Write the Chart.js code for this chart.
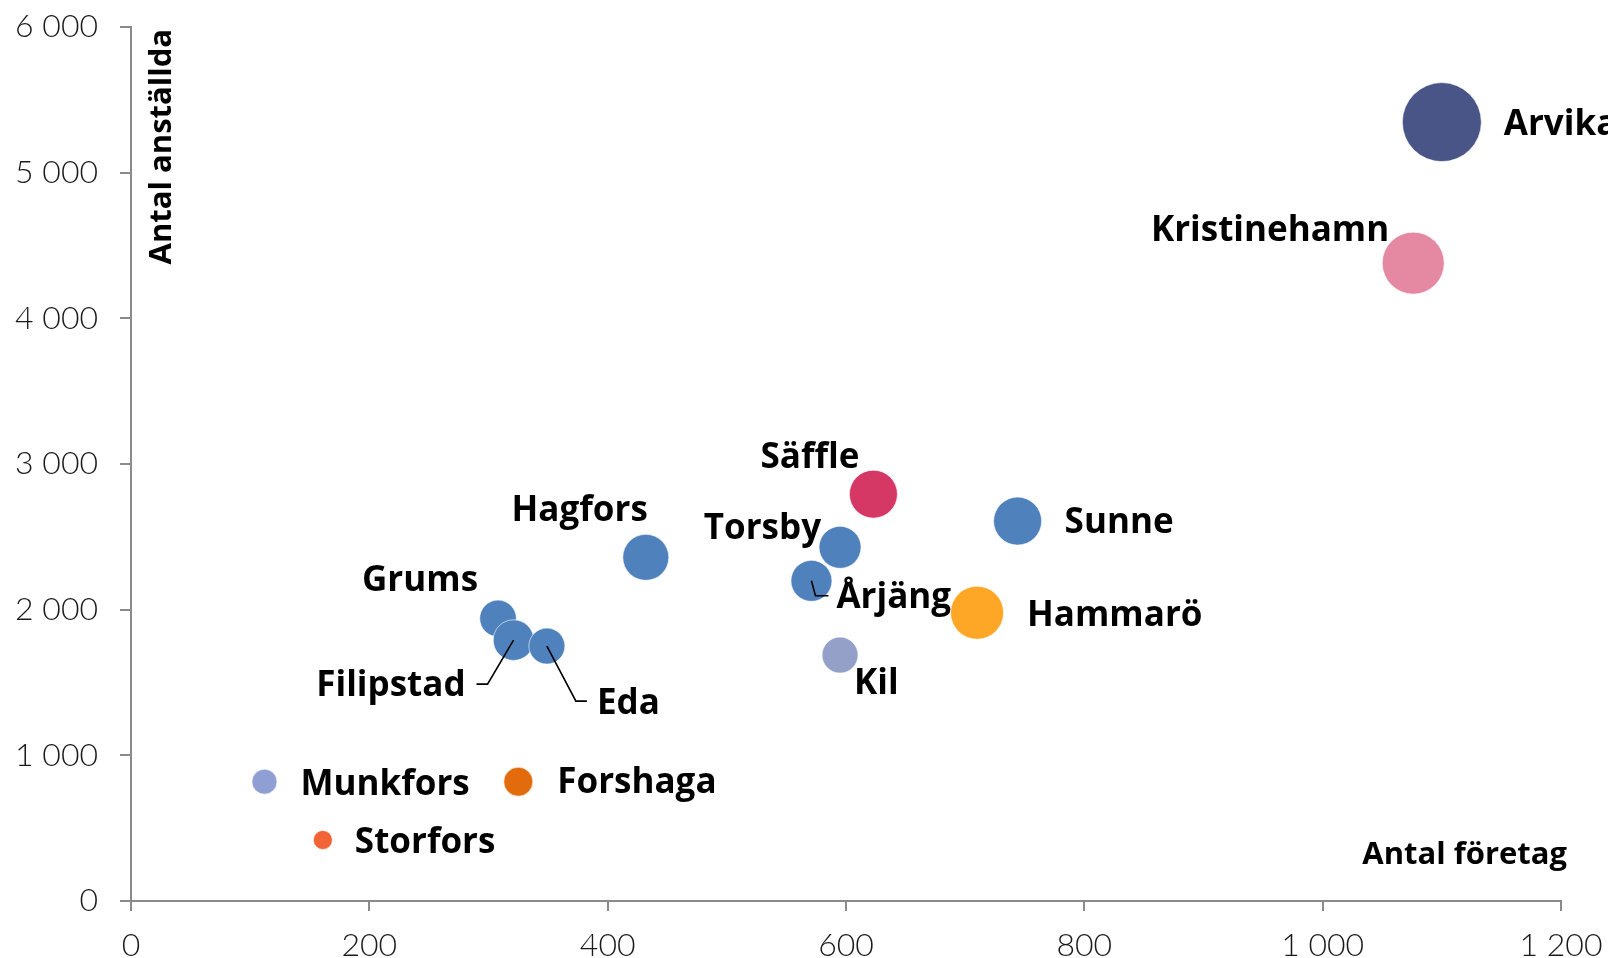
<!DOCTYPE html>
<html lang="sv">
<head>
<meta charset="utf-8">
<title>Antal företag och anställda per kommun</title>
<script src="https://cdn.jsdelivr.net/npm/chart.js@4"></script>
<style>
	html, body { margin: 0; padding: 0; background: #fff; }
	#diagram { display: block; }
</style>
</head>
<body>
<canvas id="diagram" width="1608" height="958"></canvas>
<script>
// Värden
const kommuner = ['Arvika', 'Kristinehamn', 'Säffle', 'Sunne', 'Hagfors', 'Torsby', 'Årjäng', 'Hammarö', 'Kil', 'Grums', 'Filipstad', 'Eda', 'Munkfors', 'Forshaga', 'Storfors'];
const antalForetag = [1100, 1076, 623, 744, 432, 595, 571, 710, 595, 308, 321, 349, 112, 325, 161];
const antalAnstallda = [5347, 4379, 2793, 2608, 2359, 2428, 2198, 1979, 1688, 1940, 1791, 1750, 819, 819, 419];
const bubbelStorlek = [39.5, 31, 24, 24, 23, 21, 20.5, 26.5, 18, 18.3, 20.3, 18, 12.5, 14.5, 9.5];

const xTicks = [0, 200, 400, 600, 800, 1000, 1200];
const yTicks = [0, 1000, 2000, 3000, 4000, 5000, 6000];

const xTitel = 'Antal företag';
const yTitel = 'Antal anställda';

// Utseende
const farger = {
	'Arvika': '#485586',
	'Kristinehamn': '#e589a3',
	'Säffle': '#d63866',
	'Hammarö': '#fea727',
	'Kil': '#95a0c8',
	'Munkfors': '#909fd3',
	'Forshaga': '#e26c0c',
	'Storfors': '#f26435'
};
const standardFarg = '#4f81bd';

// Etiketternas placering relativt bubblans mitt (px)
const etikettPlacering = {
	'Arvika': { dx: 62, dy: 0, align: 'left' },
	'Kristinehamn': { dx: -24, dy: -35, align: 'right' },
	'Säffle': { dx: -14, dy: -39, align: 'right' },
	'Sunne': { dx: 47, dy: -1, align: 'left' },
	'Hagfors': { dx: 2, dy: -49, align: 'right' },
	'Torsby': { dx: -19, dy: -21, align: 'right' },
	'Årjäng': { dx: 25, dy: 14, align: 'left', linje: [[0, 0], [4, 15], [17, 15]] },
	'Hammarö': { dx: 50, dy: 0, align: 'left' },
	'Kil': { dx: 14, dy: 26, align: 'left' },
	'Grums': { dx: -20, dy: -40, align: 'right' },
	'Filipstad': { dx: -48, dy: 43, align: 'right', linje: [[0, 0], [-26, 44], [-37, 44]] },
	'Eda': { dx: 50, dy: 55, align: 'left', linje: [[0, 0], [29, 55], [40, 55]] },
	'Munkfors': { dx: 36, dy: 0, align: 'left' },
	'Forshaga': { dx: 39, dy: -2, align: 'left' },
	'Storfors': { dx: 32, dy: 0, align: 'left' }
};

const axelFarg = '#8a8a8a';
const tickFont = 'Lato, "Open Sans", sans-serif';
const etikettFont = '"Open Sans", Lato, sans-serif';
const textJustering = 3; // Open Sans sitter lite högt med 'middle'

function formatTal(v)
{
	return String(v).replace(/\B(?=(\d{3})+(?!\d))/g, ' ');
}

let etiketter = {
	id: 'etiketter',
	afterDatasetsDraw: function(chart)
	{
		let ctx = chart.ctx;
		let meta = chart.getDatasetMeta(0);
		ctx.save();
		ctx.font = 'bold 35px ' + etikettFont;
		ctx.fillStyle = '#000';
		ctx.strokeStyle = '#000';
		ctx.lineWidth = 1.6;
		ctx.textBaseline = 'middle';

		kommuner.forEach((namn, i) => {
			let el = meta.data[i];
			let p = etikettPlacering[namn];
			if (p.linje)
			{
				ctx.beginPath();
				p.linje.forEach((pt, j) => {
					if (j === 0) ctx.moveTo(el.x + pt[0], el.y + pt[1]);
					else ctx.lineTo(el.x + pt[0], el.y + pt[1]);
				});
				ctx.stroke();
			}
			ctx.textAlign = p.align;
			ctx.fillText(namn, el.x + p.dx, el.y + p.dy + textJustering);
		});

		// axeltitlar
		ctx.font = 'bold 31px ' + etikettFont;
		ctx.textAlign = 'right';
		ctx.fillText(xTitel, 1567, 855);

		ctx.translate(162, 29);
		ctx.rotate(-Math.PI / 2);
		ctx.textAlign = 'right';
		ctx.fillText(yTitel, 0, 0);
		ctx.restore();
	}
};

let punkter = kommuner.map((namn, i) => ({
	x: antalForetag[i],
	y: antalAnstallda[i],
	r: bubbelStorlek[i]
}));

new Chart(document.getElementById('diagram'), {
	type: 'bubble',
	data: {
		datasets: [{
			label: 'Kommuner',
			data: punkter,
			backgroundColor: kommuner.map(n => farger[n] || standardFarg),
			borderColor: 'rgba(255,255,255,0.6)',
			borderWidth: 1,
			clip: false
		}]
	},
	options: {
		responsive: false,
		animation: false,
		devicePixelRatio: 1,
		layout: {
			autoPadding: false,
			padding: { top: 27, right: 47, left: 0, bottom: 0 }
		},
		plugins: {
			legend: { display: false },
			tooltip: { enabled: false }
		},
		scales: {
			x: {
				type: 'linear',
				min: xTicks[0],
				max: xTicks[xTicks.length - 1],
				afterBuildTicks: (s) => { s.ticks = xTicks.map(v => ({ value: v })); },
				afterFit: (s) => {
					s.height = 57;
					s.paddingLeft = 0;
					s.paddingRight = 0;
				},
				border: { color: axelFarg, width: 2 },
				grid: { drawOnChartArea: false, drawTicks: true, tickLength: 10, color: axelFarg, lineWidth: 2 },
				ticks: {
					padding: 15,
					color: '#1a1a1a',
					font: { family: tickFont, size: 32, weight: '300' },
					callback: (v) => formatTal(v)
				}
			},
			y: {
				type: 'linear',
				min: yTicks[0],
				max: yTicks[yTicks.length - 1],
				afterBuildTicks: (s) => { s.ticks = yTicks.map(v => ({ value: v })); },
				afterFit: (s) => {
					s.width = 131;
					s.paddingTop = 0;
					s.paddingBottom = 0;
				},
				border: { color: axelFarg, width: 2 },
				grid: { drawOnChartArea: false, drawTicks: true, tickLength: 11, color: axelFarg, lineWidth: 2 },
				ticks: {
					padding: 22,
					color: '#1a1a1a',
					font: { family: tickFont, size: 32, weight: '300' },
					callback: (v) => formatTal(v)
				}
			}
		}
	},
	plugins: [etiketter]
});
</script>
</body>
</html>
